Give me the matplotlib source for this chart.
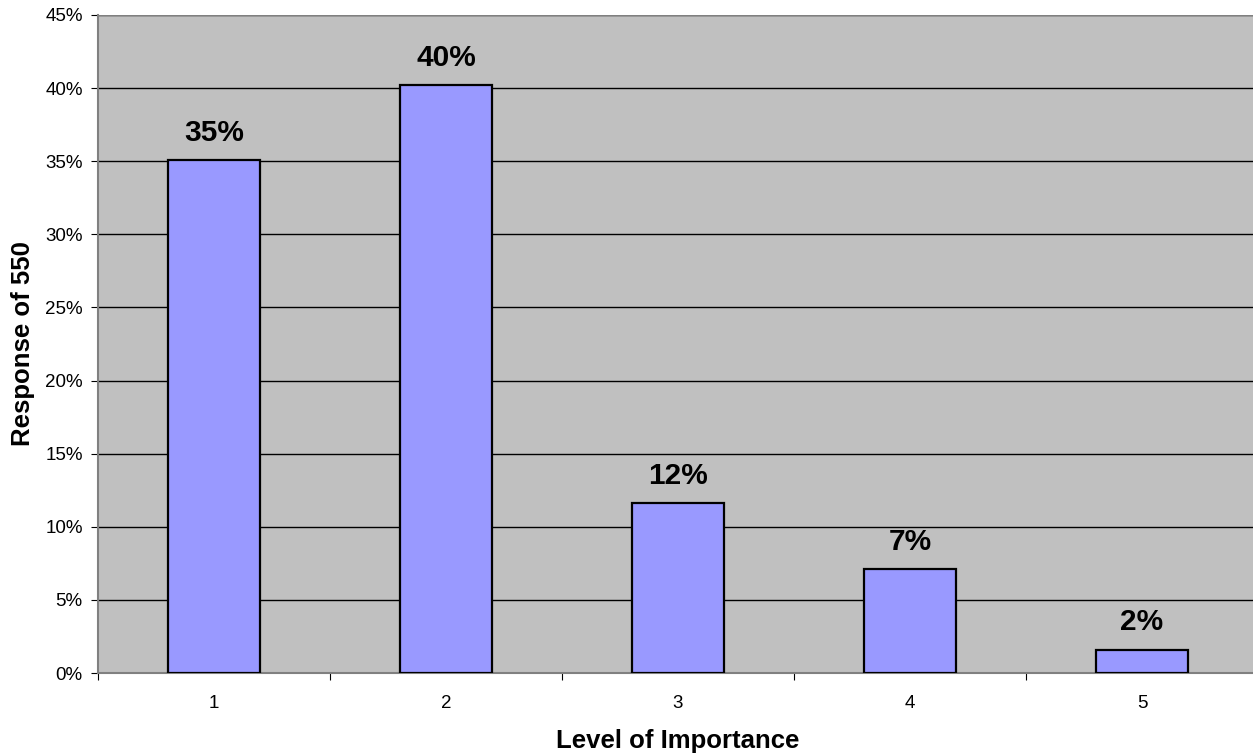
import matplotlib.pyplot as plt
from matplotlib.ticker import PercentFormatter

levels = [1, 2, 3, 4, 5]
responses = [35.1, 40.2, 11.6, 7.1, 1.6]
labels = ["35%", "40%", "12%", "7%", "2%"]

plt.rcParams['font.family'] = ['Liberation Sans', 'DejaVu Sans']

fig = plt.figure(figsize=(12.53, 7.56), dpi=100)
ax = fig.add_axes([98 / 1253, 83 / 756, 1160 / 1253, 658 / 756])
ax.set_facecolor('#C0C0C0')

ax.set_axisbelow(True)
ax.yaxis.grid(True, color='black', linewidth=1.0)
ax.bar(levels, responses, width=0.4, color='#9999FF', edgecolor='black', linewidth=1.6, zorder=3)

for x, y, t in zip(levels, responses, labels):
    ax.annotate(t, (x, y), xytext=(0, 9.5), textcoords='offset points',
                ha='center', va='bottom', fontsize=21.5, fontweight='bold', zorder=4)

ax.set_xlim(0.5, 5.5)
ax.set_ylim(0, 45)
ax.set_yticks(range(0, 46, 5))
ax.yaxis.set_major_formatter(PercentFormatter(decimals=0))

# category labels centred, tick marks between categories
ax.set_xticks([0.5, 1.5, 2.5, 3.5, 4.5, 5.5])
ax.set_xticklabels([])
ax.set_xticks(levels, minor=True)
ax.set_xticklabels([str(v) for v in levels], minor=True)
ax.tick_params(axis='x', which='major', length=5, color='black', direction='out')
ax.tick_params(axis='x', which='minor', length=0, pad=16, labelsize=13.5)
ax.tick_params(axis='y', length=5, color='black', pad=6, labelsize=13.5)

for side in ['top', 'right']:
    ax.spines[side].set_visible(False)
ax.spines['left'].set_color('#808080')
ax.spines['left'].set_linewidth(1.5)
ax.spines['bottom'].set_color('#808080')
ax.spines['bottom'].set_linewidth(1.5)
ax.axhline(45, color='#808080', linewidth=1.5)

ax.set_xlabel('Level of Importance', fontsize=18.5, fontweight='bold', labelpad=12)
ax.set_ylabel('Response of 550', fontsize=18.5, fontweight='bold', labelpad=7)

fig.savefig('out.png', dpi=100)
